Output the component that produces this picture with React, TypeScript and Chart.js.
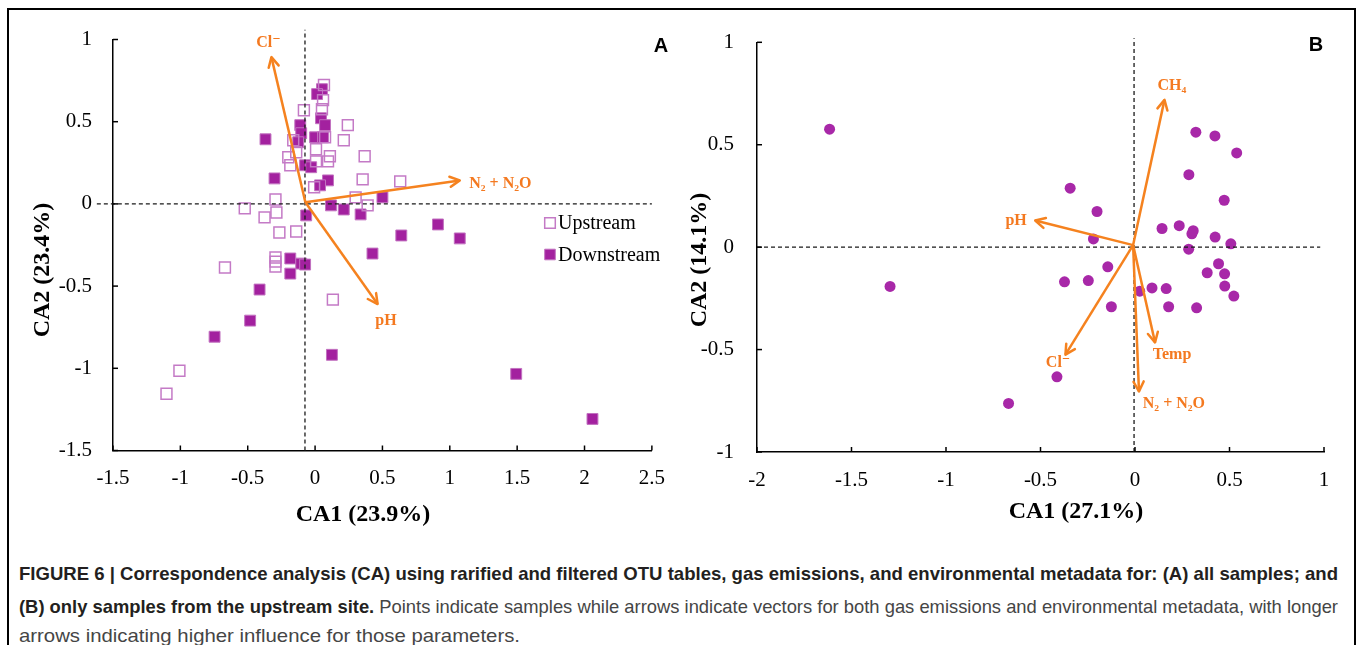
import React, { useEffect, useRef } from "react";
import { Chart, registerables } from "chart.js";

Chart.register(...registerables);

const SERIF = '"Liberation Serif", "Times New Roman", "DejaVu Serif", serif';
const SANS = '"Liberation Sans", Arial, "DejaVu Sans", sans-serif';
const CAPTION_FONT = '"Liberation Sans", Arial, "DejaVu Sans", sans-serif';

// ---------------- Panel A data ----------------
const upstreamX = [0.066, 0.059, 0.051, -0.083, 0.243, 0.213, 0.074, 0.007, -0.199, -0.184, 0.11, 0.096, 0.007, 0.368, 0.353, 0.632, -0.007, 0.301, 0.39, -0.294, -0.287, -0.522, -0.375, -0.162, -0.14, -0.265, -0.14, -0.294, -0.294, -0.294, -0.669, 0.132, -1.007, -1.103];
const upstreamY = [0.723, 0.631, 0.576, 0.57, 0.479, 0.387, 0.405, 0.332, 0.284, 0.235, 0.29, 0.259, 0.259, 0.29, 0.149, 0.137, 0.101, 0.04, -0.009, 0.027, -0.052, -0.027, -0.082, 0.387, 0.314, -0.174, -0.168, -0.326, -0.351, -0.381, -0.387, -0.582, -1.015, -1.155];
const downstreamX = [0.051, 0.015, 0.044, 0.074, -0.11, -0.103, 0.0, 0.059, -0.125, -0.368, -0.074, -0.029, -0.301, 0.096, 0.037, 0.5, 0.118, 0.213, 0.338, -0.066, 0.912, 0.64, 1.074, 0.426, -0.184, -0.103, -0.074, -0.184, -0.412, -0.482, -0.746, 0.125, 1.493, 2.059];
const downstreamY = [0.698, 0.668, 0.521, 0.479, 0.479, 0.43, 0.405, 0.405, 0.375, 0.393, 0.235, 0.223, 0.155, 0.143, 0.113, 0.04, -0.009, -0.034, -0.064, -0.07, -0.125, -0.192, -0.21, -0.302, -0.332, -0.363, -0.369, -0.424, -0.521, -0.71, -0.808, -0.918, -1.034, -1.308];

const xTicksA = [-1.5, -1, -0.5, 0, 0.5, 1, 1.5, 2, 2.5];
const xTickLabelsA = ["-1.5", "-1", "-0.5", "0", "0.5", "1", "1.5", "2", "2.5"];
const yTicksA = [-1.5, -1, -0.5, 0, 0.5, 1];
const yTickLabelsA = ["-1.5", "-1", "-0.5", "0", "0.5", "1"];

const arrowNamesA = ["Cl\u207B", "N\u2082 + N\u2082O", "pH"];
const arrowOriginA = [-0.072, 0.01];
const arrowTipXA = [-0.324, 1.074, 0.464];
const arrowTipYA = [0.893, 0.143, -0.609];
const arrowLabelXA = [-0.346, 1.375, 0.526];
const arrowLabelYA = [0.982, 0.122, -0.71];

const dashHA = { x: [-1.62, 2.5], y: [0, 0] };
const dashVA = { x: [-0.075, -0.075], y: [-1.5, 1.06] };

// ---------------- Panel B data ----------------
const siteX = [-1.616, -1.296, -0.669, -0.413, -0.343, -0.201, -0.22, -0.144, -0.373, -0.247, -0.125, 0.025, 0.09, 0.165, 0.178, 0.326, 0.285, 0.472, 0.143, 0.234, 0.308, 0.301, 0.284, 0.424, 0.507, 0.442, 0.382, 0.474, 0.475, 0.523, 0.322, 0.423, 0.538];
const siteY = [0.576, -0.192, -0.763, -0.633, 0.288, 0.174, 0.04, -0.096, -0.169, -0.163, -0.291, -0.215, -0.199, -0.202, -0.291, -0.296, 0.354, 0.229, 0.091, 0.105, 0.08, 0.065, -0.01, 0.049, 0.016, -0.081, -0.125, -0.13, -0.19, -0.239, 0.561, 0.543, 0.46];

const xTicksB = [-2, -1.5, -1, -0.5, 0, 0.5, 1];
const xTickLabelsB = ["-2", "-1.5", "-1", "-0.5", "0", "0.5", "1"];
const yTicksB = [-1, -0.5, 0, 0.5, 1];
const yTickLabelsB = ["-1", "-0.5", "0", "0.5", "1"];

const arrowNamesB = ["CH\u2084", "pH", "Cl\u207B", "Temp", "N\u2082 + N\u2082O"];
const arrowOriginB = [-0.01, 0.01];
const arrowTipXB = [0.156, -0.528, -0.368, 0.106, 0.021];
const arrowTipYB = [0.719, 0.13, -0.525, -0.465, -0.704];
const arrowLabelXB = [0.195, -0.629, -0.407, 0.196, 0.206];
const arrowLabelYB = [0.787, 0.128, -0.564, -0.525, -0.764];

const dashHB = { x: [-2, 0.98], y: [0, 0] };
const dashVB = { x: [-0.005, -0.005], y: [-1, 1.02] };

// ---------------- caption ----------------
const captionLines = [
  [{ t: "FIGURE 6 | Correspondence analysis (CA) using rarified and filtered OTU tables, gas emissions, and environmental metadata for: (A) all samples; and", b: true }],
  [
    { t: "(B) only samples from the upstream site.", b: true },
    { t: " Points indicate samples while arrows indicate vectors for both gas emissions and environmental metadata, with longer", b: false },
  ],
  [{ t: "arrows indicating higher influence for those parameters.", b: false }],
];

// ---------------- styles ----------------
const ORANGE = "#f5821f";
const ORANGE_TEXT = "#f47920";
const PURPLE = "#a3219f";
const PURPLE_EDGE = "#c272c0";
const PURPLE_OPEN = "#c47ac6";
const PURPLE_DOT = "#a828a8";

const zip = (xs: number[], ys: number[]) => xs.map((x, i) => ({ x, y: ys[i] }));

const tickLabel = (vals: number[], labels: string[]) => (v: any) => {
  const i = vals.findIndex((t) => Math.abs(t - Number(v)) < 1e-6);
  return i >= 0 ? labels[i] : "";
};

const overlayPlugin = {
  id: "overlay",
  afterDatasetsDraw(chart: any) {
    const ctx = chart.ctx;
    chart.data.datasets.forEach((ds: any, i: number) => {
      if (!ds.arrow) return;
      const meta = chart.getDatasetMeta(i);
      const p0 = meta.data[0];
      const p1 = meta.data[1];
      const ang = Math.atan2(p1.y - p0.y, p1.x - p0.x);
      const L = 11;
      const spread = 0.48;
      ctx.save();
      ctx.strokeStyle = ds.borderColor;
      ctx.lineWidth = ds.borderWidth;
      ctx.lineCap = "round";
      ctx.lineJoin = "round";
      ctx.beginPath();
      ctx.moveTo(p1.x - L * Math.cos(ang - spread), p1.y - L * Math.sin(ang - spread));
      ctx.lineTo(p1.x, p1.y);
      ctx.lineTo(p1.x - L * Math.cos(ang + spread), p1.y - L * Math.sin(ang + spread));
      ctx.stroke();
      ctx.restore();
    });
  },
  afterDraw(chart: any, _args: any, opts: any) {
    const ctx = chart.ctx;
    const { x, y } = chart.scales;
    const area = chart.chartArea;
    ctx.save();
    // inward tick marks
    ctx.strokeStyle = "#000";
    ctx.lineWidth = 1.5;
    x.ticks.forEach((t: any) => {
      const px = x.getPixelForValue(t.value);
      ctx.beginPath();
      ctx.moveTo(px, area.bottom);
      ctx.lineTo(px, area.bottom - 5);
      ctx.stroke();
    });
    y.ticks.forEach((t: any) => {
      const py = y.getPixelForValue(t.value);
      ctx.beginPath();
      ctx.moveTo(area.left, py);
      ctx.lineTo(area.left + 5, py);
      ctx.stroke();
    });
    // arrow labels
    ctx.fillStyle = ORANGE_TEXT;
    ctx.font = `bold 16px ${SERIF}`;
    ctx.textAlign = "center";
    ctx.textBaseline = "middle";
    opts.names.forEach((n: string, i: number) => {
      ctx.fillText(n, x.getPixelForValue(opts.labelX[i]), y.getPixelForValue(opts.labelY[i]));
    });
    // axis titles
    ctx.fillStyle = "#000";
    ctx.font = `bold 24px ${SERIF}`;
    ctx.fillText(opts.xTitle, opts.xTitlePos[0], opts.xTitlePos[1]);
    ctx.save();
    ctx.translate(opts.yTitlePos[0], opts.yTitlePos[1]);
    ctx.rotate(-Math.PI / 2);
    ctx.fillText(opts.yTitle, 0, 0);
    ctx.restore();
    // panel letter
    ctx.font = `bold 20px ${SANS}`;
    ctx.fillText(opts.panel, opts.panelPos[0], opts.panelPos[1]);
    // legend
    if (opts.legend) {
      opts.legend.forEach((item: any) => {
        const ds = chart.data.datasets[item.ds];
        const s = 10.6;
        ctx.save();
        ctx.fillStyle = ds.backgroundColor;
        ctx.strokeStyle = ds.borderColor;
        ctx.lineWidth = ds.borderWidth;
        ctx.beginPath();
        ctx.rect(item.pos[0] - s / 2, item.pos[1] - s / 2, s, s);
        ctx.fill();
        ctx.stroke();
        ctx.restore();
        ctx.fillStyle = "#000";
        ctx.font = `20px ${SERIF}`;
        ctx.textAlign = "left";
        ctx.fillText(ds.label, item.pos[0] + 8, item.pos[1] + 1);
      });
    }
    ctx.restore();
  },
};

function arrowSets(names: string[], origin: number[], tx: number[], ty: number[]) {
  return names.map((n, i) => ({
    label: n,
    data: [
      { x: origin[0], y: origin[1] },
      { x: tx[i], y: ty[i] },
    ],
    showLine: true,
    borderColor: ORANGE,
    backgroundColor: ORANGE,
    borderWidth: 2.5,
    pointRadius: 0,
    order: 0,
    clip: false,
    arrow: true,
  }));
}

function dashSet(d: { x: number[]; y: number[] }) {
  return {
    label: "ref",
    data: zip(d.x, d.y),
    showLine: true,
    borderColor: "#1a1a1a",
    borderWidth: 1.3,
    borderDash: [4, 3],
    pointRadius: 0,
    order: 1,
    clip: false,
  };
}

function axisScales(p: {
  xMin: number; xMax: number; yMin: number; yMax: number;
  xTicks: number[]; xLabels: string[]; yTicks: number[]; yLabels: string[];
  yWidth: number; xHeight: number; yPad: number; xPad: number;
}) {
  const common = {
    type: "linear",
    grid: { display: true, drawOnChartArea: false, drawTicks: false },
    border: { display: true, color: "#000", width: 1.5 },
  };
  return {
    x: {
      ...common,
      position: "bottom",
      min: p.xMin,
      max: p.xMax,
      afterBuildTicks: (s: any) => {
        s.ticks = p.xTicks.map((v) => ({ value: v }));
      },
      afterFit: (s: any) => {
        s.height = p.xHeight;
      },
      ticks: {
        autoSkip: false,
        maxRotation: 0,
        padding: p.xPad,
        color: "#000",
        font: { family: SERIF, size: 21 },
        callback: tickLabel(p.xTicks, p.xLabels),
      },
    },
    y: {
      ...common,
      position: "left",
      min: p.yMin,
      max: p.yMax,
      afterBuildTicks: (s: any) => {
        s.ticks = p.yTicks.map((v) => ({ value: v }));
      },
      afterFit: (s: any) => {
        s.width = p.yWidth;
      },
      ticks: {
        autoSkip: false,
        padding: p.yPad,
        color: "#000",
        font: { family: SERIF, size: 21 },
        callback: tickLabel(p.yTicks, p.yLabels),
      },
    },
  };
}

function makeChartA(canvas: HTMLCanvasElement) {
  const datasets: any[] = [
    ...arrowSets(arrowNamesA, arrowOriginA, arrowTipXA, arrowTipYA),
    dashSet(dashHA),
    dashSet(dashVA),
    {
      label: "Upstream",
      data: zip(upstreamX, upstreamY),
      pointStyle: "rect",
      pointRadius: 7.7,
      backgroundColor: "rgba(255,255,255,0)",
      borderColor: PURPLE_OPEN,
      borderWidth: 1.5,
      order: 2,
    },
    {
      label: "Downstream",
      data: zip(downstreamX, downstreamY),
      pointStyle: "rect",
      pointRadius: 7.7,
      backgroundColor: PURPLE,
      borderColor: PURPLE_EDGE,
      borderWidth: 1,
      order: 3,
    },
  ];
  const n = datasets.length;
  return new Chart(canvas, {
    type: "scatter",
    data: { datasets },
    options: {
      responsive: false,
      animation: false,
      events: [],
      layout: { padding: { left: 0, right: 23, top: 39.5, bottom: 0 } },
      plugins: {
        legend: { display: false },
        tooltip: { enabled: false },
        overlay: {
          names: arrowNamesA,
          labelX: arrowLabelXA,
          labelY: arrowLabelYA,
          xTitle: "CA1 (23.9%)",
          xTitlePos: [363, 515],
          yTitle: "CA2 (23.4%)",
          yTitlePos: [43, 270],
          panel: "A",
          panelPos: [661, 46],
          legend: [
            { ds: n - 2, pos: [550, 223] },
            { ds: n - 1, pos: [550, 254.5] },
          ],
        },
      } as any,
      scales: axisScales({
        xMin: -1.5, xMax: 2.5, yMin: -1.5, yMax: 1,
        xTicks: xTicksA, xLabels: xTickLabelsA, yTicks: yTicksA, yLabels: yTickLabelsA,
        yWidth: 113, xHeight: 79.5, yPad: 21, xPad: 15,
      }) as any,
    },
    plugins: [overlayPlugin as any],
  });
}

function makeChartB(canvas: HTMLCanvasElement) {
  const datasets: any[] = [
    ...arrowSets(arrowNamesB, arrowOriginB, arrowTipXB, arrowTipYB),
    dashSet(dashHB),
    dashSet(dashVB),
    {
      label: "Upstream samples",
      data: zip(siteX, siteY),
      pointStyle: "circle",
      pointRadius: 5.5,
      backgroundColor: PURPLE_DOT,
      borderColor: PURPLE_DOT,
      borderWidth: 0,
      order: 2,
    },
  ];
  return new Chart(canvas, {
    type: "scatter",
    data: { datasets },
    options: {
      responsive: false,
      animation: false,
      events: [],
      layout: { padding: { left: 0, right: 34, top: 42.3, bottom: 0 } },
      plugins: {
        legend: { display: false },
        tooltip: { enabled: false },
        overlay: {
          names: arrowNamesB,
          labelX: arrowLabelXB,
          labelY: arrowLabelYB,
          xTitle: "CA1 (27.1%)",
          xTitlePos: [396, 512],
          yTitle: "CA2 (14.1%)",
          yTitlePos: [20, 260],
          panel: "B",
          panelPos: [636, 45],
        },
      } as any,
      scales: axisScales({
        xMin: -2, xMax: 1, yMin: -1, yMax: 1,
        xTicks: xTicksB, xLabels: xTickLabelsB, yTicks: yTicksB, yLabels: yTickLabelsB,
        yWidth: 77, xHeight: 78, yPad: 23, xPad: 16,
      }) as any,
    },
    plugins: [overlayPlugin as any],
  });
}

function Caption() {
  const refs = useRef<(HTMLDivElement | null)[]>([]);
  const targets = [1319, 1319, 501];
  const centers = [574, 607, 636];
  useEffect(() => {
    refs.current.forEach((el, i) => {
      if (!el) return;
      el.style.transform = "none";
      const w = el.getBoundingClientRect().width;
      if (w > 0) el.style.transform = `scaleX(${targets[i] / w})`;
    });
  }, []);
  return (
    <>
      {captionLines.map((line, i) => (
        <div
          key={i}
          ref={(el) => {
            refs.current[i] = el;
          }}
          style={{
            position: "absolute",
            left: 19,
            top: centers[i] - 11,
            height: 22,
            lineHeight: "22px",
            whiteSpace: "nowrap",
            fontFamily: CAPTION_FONT,
            fontSize: 18.5,
            transformOrigin: "left center",
            display: "inline-block",
          }}
        >
          {line.map((seg, j) => (
            <span key={j} style={{ fontWeight: seg.b ? 700 : 400, color: seg.b ? "#231f20" : "#454545" }}>
              {seg.t}
            </span>
          ))}
        </div>
      ))}
    </>
  );
}

export default function App() {
  const refA = useRef<HTMLCanvasElement | null>(null);
  const refB = useRef<HTMLCanvasElement | null>(null);
  useEffect(() => {
    const a = refA.current ? makeChartA(refA.current) : null;
    const b = refB.current ? makeChartB(refB.current) : null;
    return () => {
      a?.destroy();
      b?.destroy();
    };
  }, []);
  return (
    <div
      style={{
        position: "fixed",
        left: 0,
        top: 0,
        width: 1358,
        height: 645,
        background: "#fff",
        overflow: "hidden",
      }}
    >
      <div
        style={{
          position: "absolute",
          left: 7,
          top: 8,
          width: 1349,
          height: 700,
          border: "2.5px solid #000",
          boxSizing: "border-box",
        }}
      />
      <canvas
        ref={refA}
        width={680}
        height={530}
        style={{ position: "absolute", left: 0, top: 0, width: 680, height: 530 }}
      />
      <canvas
        ref={refB}
        width={678}
        height={530}
        style={{ position: "absolute", left: 680, top: 0, width: 678, height: 530 }}
      />
      <Caption />
    </div>
  );
}
